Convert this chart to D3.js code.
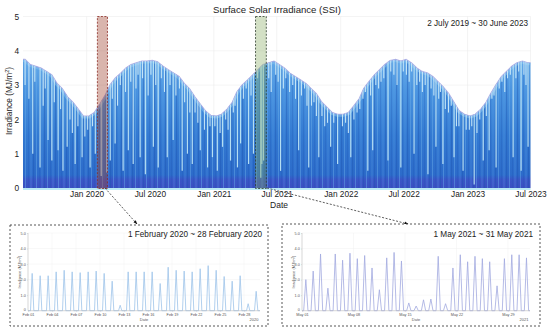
<!DOCTYPE html>
<html><head><meta charset="utf-8">
<script src="https://cdn.jsdelivr.net/npm/d3@7"></script>
<style>body{margin:0;background:#fff}svg{display:block;font-family:"Liberation Sans",Arial,sans-serif}</style>
</head><body><svg id="c" width="550" height="330"></svg>
<script>
// ---------- DATA ----------
const mainTitle = "Surface Solar Irradiance (SSI)";
const mainPeriod = "2 July 2019 ~ 30 June 2023";
const xTickDates = ["2020-01-01","2020-07-01","2021-01-01","2021-07-01","2022-01-01","2022-07-01","2023-01-01","2023-07-01"];
const yTicks = [0,1,2,3,4,5];
const envelopeFirstMonth = "2019-07-01";
// upper envelope of irradiance, two values (first / second half) per month, Jul 2019 .. Jun 2023
const envelope = [
 [3.75,3.6],[3.55,3.5],[3.4,3.3],[3.05,2.9],[2.65,2.5],[2.3,2.1],
 [2.1,2.2],[2.45,2.7],[3.0,3.2],[3.35,3.5],[3.6,3.65],[3.7,3.7],
 [3.72,3.68],[3.55,3.45],[3.35,3.25],[3.05,2.9],[2.65,2.45],[2.25,2.12],
 [2.1,2.15],[2.3,2.5],[2.8,3.0],[3.15,3.3],[3.45,3.6],[3.65,3.7],
 [3.6,3.5],[3.35,3.25],[3.15,3.05],[2.9,2.75],[2.5,2.35],[2.2,2.15],
 [2.15,2.2],[2.4,2.6],[2.9,3.1],[3.3,3.45],[3.6,3.72],[3.75,3.7],
 [3.75,3.65],[3.5,3.4],[3.35,3.25],[3.1,2.95],[2.75,2.5],[2.25,2.15],
 [2.1,2.15],[2.3,2.5],[2.75,3.0],[3.25,3.4],[3.55,3.65],[3.7,3.65]
];
// overcast days (deep pale streaks): [date, daily peak]
const cloudyDays = [
 ["2019-07-30",1.0],["2019-08-20",0.6],["2019-09-12",1.4],["2019-09-23",0.8],["2019-10-11",1.1],["2019-10-25",0.5],
 ["2019-11-06",1.2],["2019-11-29",0.7],["2019-12-19",0.9],["2020-01-11",0.6],["2020-01-26",1.0],["2020-02-12",0.35],
 ["2020-02-28",0.45],["2020-03-09",0.8],["2020-03-23",1.3],["2020-04-15",0.5],["2020-04-30",1.1],["2020-05-14",0.7],
 ["2020-06-03",0.9],["2020-06-18",0.4],["2020-07-11",1.2],["2020-07-25",0.6],["2020-08-20",0.9],["2020-09-06",1.4],
 ["2020-10-02",0.5],["2020-10-17",1.0],["2020-10-31",0.7],["2020-11-23",1.1],["2020-12-14",0.6],["2020-12-28",0.9],
 ["2021-01-11",0.5],["2021-01-26",1.2],["2021-02-18",0.8],["2021-03-10",0.6],["2021-03-19",1.3],["2021-04-11",0.7],
 ["2021-04-25",1.0],["2021-05-16",0.3],["2021-05-19",0.7],["2021-05-24",0.8],["2021-07-12",0.5],["2021-09-02",1.1],
 ["2021-10-01",0.6],["2021-10-30",0.9],["2021-12-03",1.2],["2021-12-23",0.7],["2022-01-30",0.9],["2022-03-20",0.5],
 ["2022-04-03",1.1],["2022-05-17",0.8],["2022-06-23",0.6],["2022-07-31",1.0],["2022-09-09",0.4],["2022-10-02",1.2],
 ["2022-10-22",0.7],["2022-11-23",0.9],["2022-12-19",0.5],["2023-01-20",0.1],["2023-02-15",0.8],["2023-03-04",1.1],
 ["2023-03-24",0.6],["2023-05-12",0.9],["2023-06-04",0.5],["2023-06-24",1.2]
];
// partly cloudy days (short notches at the top): [date, daily peak]
const hazyDays = [
 ["2019-07-08",3.0],["2019-07-19",2.6],["2019-08-05",3.1],["2019-08-29",2.4],["2019-09-04",2.9],["2019-09-30",2.5],
 ["2019-10-18",2.3],["2019-11-14",2.0],["2019-11-21",1.6],["2019-12-07",1.8],["2019-12-27",1.5],
 ["2020-01-04",1.7],["2020-01-18",1.8],["2020-03-15",2.6],["2020-03-30",2.4],["2020-04-07",3.0],["2020-04-22",2.8],
 ["2020-05-07",3.1],["2020-05-22",2.9],["2020-05-28",3.3],["2020-06-10",3.2],["2020-06-26",2.7],["2020-07-04",3.3],
 ["2020-07-18",3.0],["2020-08-03",3.2],["2020-08-12",2.8],["2020-08-28",3.0],["2020-09-14",2.7],["2020-09-24",2.9],
 ["2020-10-09",2.5],["2020-10-24",2.2],["2020-11-08",2.2],["2020-11-16",1.9],["2020-12-05",1.7],["2020-12-21",1.8],
 ["2021-01-04",1.8],["2021-01-19",1.6],["2021-02-04",2.0],["2021-02-11",1.7],["2021-02-26",2.2],["2021-03-03",2.4],
 ["2021-03-27",2.6],["2021-04-04",2.9],["2021-04-18",2.7],["2021-05-07",3.2],["2021-06-08",3.2],["2021-06-15",2.8],
 ["2021-06-28",3.3],["2021-07-05",3.1],["2021-07-20",2.9],["2021-07-27",3.2],["2021-08-07",2.8],["2021-08-16",3.0],
 ["2021-08-24",2.6],["2021-09-10",2.7],["2021-09-19",2.9],["2021-09-26",2.4],["2021-10-09",2.4],["2021-10-16",2.5],
 ["2021-10-23",2.1],["2021-11-08",2.1],["2021-11-16",1.8],["2021-11-24",1.9],["2021-12-12",1.9],
 ["2022-01-06",1.8],["2022-01-15",1.9],["2022-01-23",1.6],["2022-02-08",2.0],["2022-02-17",2.2],["2022-02-25",2.3],
 ["2022-03-06",2.6],["2022-03-13",2.8],["2022-03-28",2.7],["2022-04-12",3.0],["2022-04-20",2.9],["2022-04-27",3.1],
 ["2022-05-05",3.2],["2022-05-25",3.4],["2022-06-03",3.3],["2022-06-12",3.0],["2022-06-30",3.4],["2022-07-09",3.3],
 ["2022-07-17",3.1],["2022-07-24",3.4],["2022-08-08",3.0],["2022-08-16",3.1],["2022-08-24",2.8],["2022-09-01",3.0],
 ["2022-09-18",2.9],["2022-09-26",2.7],["2022-10-10",2.6],["2022-10-15",2.8],["2022-10-29",2.3],["2022-11-07",2.2],
 ["2022-11-15",2.4],["2022-11-30",1.8],["2022-12-07",1.8],["2022-12-28",1.7],
 ["2023-01-06",1.7],["2023-01-13",1.8],["2023-01-28",1.6],["2023-02-05",2.0],["2023-02-24",2.1],["2023-03-12",2.6],
 ["2023-03-18",2.7],["2023-04-02",2.9],["2023-04-10",3.1],["2023-04-18",2.8],["2023-04-26",3.2],["2023-05-04",3.3],
 ["2023-05-20",3.2],["2023-05-28",3.4],["2023-06-12",3.3],["2023-06-18",3.0]
];
// Inset 1: February 2020 daily peaks
const febTitle = "1 February 2020 ~ 28 February 2020";
const febStart = "2020-02-01", febEnd = "2020-03-01";
const febTicks = ["2020-02-01","2020-02-04","2020-02-07","2020-02-10","2020-02-13","2020-02-16","2020-02-19","2020-02-22","2020-02-25","2020-02-28"];
const febPeaks = [2.4,2.25,2.25,2.5,2.6,2.5,2.45,2.5,2.55,2.4,1.9,0.35,2.5,2.5,2.5,2.5,1.75,2.8,2.6,2.55,2.5,2.7,2.9,2.6,2.2,1.9,2.25,0.45,1.25];
const febSun = [7.5,12.5,17.5];
// Inset 2: May 2021 daily peaks
const mayTitle = "1 May 2021 ~ 31 May 2021";
const mayStart = "2021-05-01", mayEnd = "2021-06-01";
const mayTicks = ["2021-05-01","2021-05-08","2021-05-15","2021-05-22","2021-05-29"];
const mayPeaks = [2.0,2.55,3.65,1.45,3.65,3.25,3.7,3.35,3.55,2.75,1.35,3.4,3.75,3.2,0.5,0.3,0.7,0.75,3.5,0.45,2.75,3.6,3.15,3.5,3.35,3.15,1.6,3.35,3.6,3.6,3.4];
const maySun = [5.5,12.5,19.5];
const highlights = [
  {from: febStart, to: febEnd, fill:"rgba(160,70,50,0.4)", stroke:"#8a2a22"},
  {from: mayStart, to: mayEnd, fill:"rgba(130,165,90,0.35)", stroke:"#2e3d2e"}
];

// ---------- DRAW ----------
const parse = d3.timeParse("%Y-%m-%d");
const svg = d3.select("#c");
const FONT = "#222";
const x = d3.scaleTime().domain([parse("2019-07-02"), parse("2023-07-01")]).range([23, 530.5]);
const y = d3.scaleLinear().domain([0,5]).range([188,16.5]);
const defs = svg.append("defs");

const grad = defs.append("linearGradient").attr("id","g").attr("gradientUnits","userSpaceOnUse")
  .attr("x1",0).attr("x2",0).attr("y1",y(3.8)).attr("y2",y(0));
[[0,"#66acea"],[0.25,"#4a94e0"],[0.6,"#337ad2"],[0.9,"#2c6bca"],[0.935,"#3a56c6"],[1,"#3b4fc2"]]
 .forEach(([o,c])=>grad.append("stop").attr("offset",o).attr("stop-color",c));
const pat = defs.append("pattern").attr("id","tex").attr("patternUnits","userSpaceOnUse").attr("width",11).attr("height",10);
pat.append("rect").attr("x",0).attr("width",1.2).attr("height",10).attr("fill","#1b52b0").attr("opacity",0.4);
pat.append("rect").attr("x",3).attr("width",1).attr("height",10).attr("fill","#6aaeea").attr("opacity",0.45);
pat.append("rect").attr("x",6).attr("width",0.8).attr("height",10).attr("fill","#1b52b0").attr("opacity",0.3);
pat.append("rect").attr("x",8.5).attr("width",1).attr("height",10).attr("fill","#5ea2e6").attr("opacity",0.35);

// grid
const gGrid = svg.append("g");
gGrid.selectAll("line.h").data(yTicks).join("line").attr("x1",23).attr("x2",530.5)
  .attr("y1",d=>y(d)).attr("y2",d=>y(d)).attr("stroke","#ececec").attr("stroke-width",0.6);
gGrid.selectAll("line.v").data(xTickDates).join("line").attr("y1",y(0)).attr("y2",y(5))
  .attr("x1",d=>x(parse(d))).attr("x2",d=>x(parse(d))).attr("stroke","#ececec").attr("stroke-width",0.6);

// envelope points
const m0 = parse(envelopeFirstMonth);
let pts = [];
envelope.forEach((pair,i)=>{
  const m = d3.timeMonth.offset(m0,i);
  pts.push([d3.timeDay.offset(m,7), pair[0]]);
  pts.push([d3.timeDay.offset(m,22), pair[1]]);
});
pts.unshift([x.domain()[0], envelope[0][0]]);
pts.push([x.domain()[1], envelope[envelope.length-1][1]]);

const area = d3.area().x(d=>x(d[0])).y0(y(0)).y1(d=>y(d[1]));
const line = d3.line().x(d=>x(d[0])).y(d=>y(d[1]));
defs.append("clipPath").attr("id","ac").append("path").attr("d",area(pts));

const gMain = svg.append("g");
gMain.append("path").attr("d",area(pts)).attr("fill","url(#g)");
gMain.append("rect").attr("x",23).attr("width",507.5).attr("y",y(5)).attr("height",y(0)-y(5))
  .attr("fill","url(#tex)").attr("clip-path","url(#ac)");
gMain.append("path").attr("d",line(pts)).attr("fill","none").attr("stroke","#80bcef").attr("stroke-width",5)
  .attr("clip-path","url(#ac)").attr("opacity",0.6);
gMain.append("path").attr("d",line(pts)).attr("fill","none").attr("stroke","#a8a6e2").attr("stroke-width",1.1).attr("opacity",0.85);
const gStreak = gMain.append("g").attr("clip-path","url(#ac)");
gStreak.selectAll("line.h").data(hazyDays).join("line")
  .attr("x1",d=>x(parse(d[0]))).attr("x2",d=>x(parse(d[0])))
  .attr("y1",y(4.2)).attr("y2",d=>y(d[1])).attr("stroke","#d2eefa").attr("stroke-width",1.1).attr("opacity",0.9);
gStreak.selectAll("line.c").data(cloudyDays).join("line")
  .attr("x1",d=>x(parse(d[0]))).attr("x2",d=>x(parse(d[0])))
  .attr("y1",y(4.2)).attr("y2",d=>y(d[1])).attr("stroke","#c4eaf8").attr("stroke-width",1.2).attr("opacity",0.9);
gMain.append("line").attr("x1",23).attr("x2",530.5).attr("y1",189).attr("y2",189).attr("stroke","#a4e2f2").attr("stroke-width",1.6);

// highlight rectangles
svg.append("g").selectAll("rect").data(highlights).join("rect")
  .attr("x",d=>x(parse(d.from))).attr("width",d=>x(parse(d.to))-x(parse(d.from)))
  .attr("y",y(5)).attr("height",y(0)-y(5)+0.5)
  .attr("fill",d=>d.fill).attr("stroke",d=>d.stroke).attr("stroke-width",0.8).attr("stroke-dasharray","2,1.5");

// axes
const xAxis = d3.axisBottom(x).tickValues(xTickDates.map(parse)).tickFormat(d3.timeFormat("%b %Y")).tickSize(0).tickPadding(3.5);
const gx = svg.append("g").attr("transform",`translate(0,${y(0)})`).call(xAxis);
gx.select(".domain").remove();
gx.selectAll("text").attr("font-size",8.3).attr("fill",FONT).attr("font-family","Liberation Sans, Arial, sans-serif");
const yAxis = d3.axisLeft(y).tickValues(yTicks).tickFormat(d3.format("d")).tickSize(0).tickPadding(4);
const gy = svg.append("g").attr("transform","translate(23,0)").call(yAxis);
gy.select(".domain").remove();
gy.selectAll("text").attr("font-size",8.3).attr("fill",FONT).attr("font-family","Liberation Sans, Arial, sans-serif");

const yt = svg.append("text").attr("transform","translate(11.5,101) rotate(-90)").attr("text-anchor","middle")
  .attr("font-size",8.3).attr("fill",FONT);
yt.append("tspan").text("Irradiance (MJ/m");
yt.append("tspan").attr("font-size",5.5).attr("dy",-3).text("2");
yt.append("tspan").attr("dy",3).text(")");
svg.append("text").attr("x",279).attr("y",208).attr("text-anchor","middle").attr("font-size",8.5).attr("fill",FONT).text("Date");
svg.append("text").attr("x",277).attr("y",12.5).attr("text-anchor","middle").attr("font-size",9.6).attr("fill",FONT).text(mainTitle);
svg.append("text").attr("x",528).attr("y",26).attr("text-anchor","end").attr("font-size",8.2).attr("fill",FONT).text(mainPeriod);

// arrows
defs.append("marker").attr("id","ah").attr("viewBox","0 0 10 10").attr("refX",9).attr("refY",5)
  .attr("markerWidth",5).attr("markerHeight",5).attr("orient","auto")
  .append("path").attr("d","M0,1 L10,5 L0,9 Z").attr("fill","#111");
const arrows = [[[105,188],[137,224]],[[267,188],[408,224]]];
svg.append("g").selectAll("line").data(arrows).join("line")
  .attr("x1",d=>d[0][0]).attr("y1",d=>d[0][1]).attr("x2",d=>d[1][0]).attr("y2",d=>d[1][1])
  .attr("stroke","#333").attr("stroke-width",0.8).attr("stroke-dasharray","2,1.6").attr("marker-end","url(#ah)");

// insets
function inset(cfg){
  const g = svg.append("g");
  g.append("rect").attr("x",cfg.box[0]).attr("y",cfg.box[1]).attr("width",cfg.box[2]-cfg.box[0]).attr("height",cfg.box[3]-cfg.box[1])
    .attr("fill","#fff").attr("stroke","#444").attr("stroke-width",0.9).attr("stroke-dasharray","2,2");
  const xs = d3.scaleTime().domain([parse(cfg.start),parse(cfg.end)]).range(cfg.xr);
  const ys = d3.scaleLinear().domain([0,5]).range([310.7,233]);
  g.selectAll("line.h").data(yTicks).join("line").attr("x1",cfg.xr[0]).attr("x2",cfg.xr[1])
    .attr("y1",d=>ys(d)).attr("y2",d=>ys(d)).attr("stroke","#f0f0f0").attr("stroke-width",0.5);
  g.selectAll("line.v").data(cfg.ticks).join("line").attr("y1",ys(0)).attr("y2",ys(5))
    .attr("x1",d=>xs(parse(d))).attr("x2",d=>xs(parse(d))).attr("stroke","#f0f0f0").attr("stroke-width",0.5);
  const pts = [[parse(cfg.start),0]];
  cfg.peaks.forEach((p,i)=>{
    const day = d3.timeDay.offset(parse(cfg.start),i);
    pts.push([d3.timeMinute.offset(day,cfg.sun[0]*60),0]);
    pts.push([d3.timeMinute.offset(day,cfg.sun[1]*60),p]);
    pts.push([d3.timeMinute.offset(day,cfg.sun[2]*60),0]);
  });
  pts.push([parse(cfg.end),0]);
  g.append("path").attr("d",d3.line().x(d=>xs(d[0])).y(d=>ys(d[1]))(pts))
    .attr("fill","none").attr("stroke",cfg.color).attr("stroke-width",0.8);
  g.append("line").attr("x1",cfg.xr[0]).attr("x2",cfg.xr[0]).attr("y1",ys(0)).attr("y2",ys(5)).attr("stroke","#bbb").attr("stroke-width",0.5);
  g.append("line").attr("x1",cfg.xr[0]).attr("x2",cfg.xr[1]).attr("y1",ys(0)).attr("y2",ys(0)).attr("stroke","#bbb").attr("stroke-width",0.5);
  const ax = d3.axisBottom(xs).tickValues(cfg.ticks.map(parse)).tickFormat(d3.timeFormat("%b %d")).tickSize(1).tickPadding(1.8);
  const gax = g.append("g").attr("transform",`translate(0,${ys(0)})`).call(ax);
  gax.select(".domain").remove();
  gax.selectAll("line").attr("stroke","#bbb").attr("stroke-width",0.4);
  gax.selectAll("text").attr("font-size",3.8).attr("fill","#555");
  const ay = d3.axisLeft(ys).tickValues(yTicks.slice(1)).tickSize(1).tickPadding(1.2);
  const gay = g.append("g").attr("transform",`translate(${cfg.xr[0]},0)`).call(ay);
  gay.select(".domain").remove();
  gay.selectAll("line").attr("stroke","#bbb").attr("stroke-width",0.4);
  gay.selectAll("text").attr("font-size",3.8).attr("fill","#555");
  // zero label placed slightly above the x tick labels
  g.append("text").attr("x",cfg.xr[0]-2.2).attr("y",ys(0)+0.3).attr("text-anchor","end").attr("font-size",3.8).attr("fill","#555").text("0");
  const t = g.append("text").attr("transform",`translate(${cfg.xr[0]-7},272) rotate(-90)`).attr("text-anchor","middle").attr("font-size",4).attr("fill","#555");
  t.append("tspan").text("Irradiance (MJ/m"); t.append("tspan").attr("font-size",2.8).attr("dy",-1.5).text("2"); t.append("tspan").attr("dy",1.5).text(")");
  g.append("text").attr("x",(cfg.xr[0]+cfg.xr[1])/2).attr("y",320.8).attr("text-anchor","middle").attr("font-size",4).attr("fill","#555").text("Date");
  g.append("text").attr("x",cfg.xr[1]-6).attr("y",320.8).attr("text-anchor","middle").attr("font-size",4).attr("fill","#555").text(cfg.year);
  g.append("text").attr("x",cfg.titleX).attr("y",236.5).attr("text-anchor","end").attr("font-size",8.2).attr("fill",FONT).text(cfg.title);
}
inset({box:[10,225,268,326], xr:[28,260], start:febStart, end:febEnd, ticks:febTicks, peaks:febPeaks, sun:febSun, color:"#9ec4ea", year:"2020", title:febTitle, titleX:262});
inset({box:[282,224,540,326], xr:[302,530], start:mayStart, end:mayEnd, ticks:mayTicks, peaks:mayPeaks, sun:maySun, color:"#a2aae0", year:"2021", title:mayTitle, titleX:533});
</script></body></html>
